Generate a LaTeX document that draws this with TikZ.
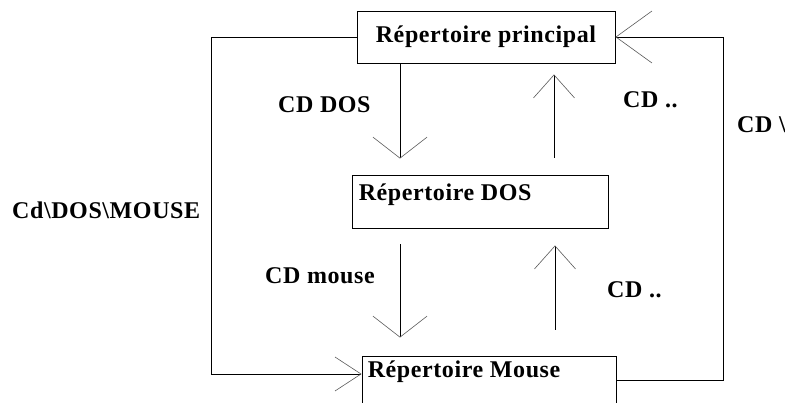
\documentclass[tikz,border=0pt]{standalone}
\usepackage{fontspec}
\setmainfont[LetterSpace=2.5]{Liberation Serif}
\usetikzlibrary{arrows.meta}

\begin{document}
\begin{tikzpicture}[
  x=1pt, y=-1pt,
  every node/.style={font=\fontsize{24}{28}\selectfont\bfseries},
  box/.style={draw, rectangle, line width=0.9pt, inner sep=0pt},
  lbl/.style={anchor=west, inner sep=0pt},
  fl/.style 2 args={line width=0.9pt,
    -{Straight Barb[length=#1pt, width=#2pt, line width=0.6pt, color=black!65]}}
]
\useasboundingbox (0,0) rectangle (785,403);
\clip (0,0) rectangle (785,403);

\node[box, minimum width=258, minimum height=52] (root)  at (486,37)    {Répertoire principal};
\node[box, minimum width=256, minimum height=53] (dos)   at (480,201.5) {};
\node[box, minimum width=254, minimum height=64] (mouse) at (489,388)   {};
\node[lbl] (dostxt)   at ([xshift=7pt,yshift=-20pt]dos.north west)   {Répertoire DOS};
\node[lbl] (mousetxt) at ([xshift=6pt,yshift=-16pt]mouse.north west) {Répertoire Mouse};

% labels
\node[lbl] (cddos)   at (278,105) {CD DOS};
\node[lbl] (cdup1)   at (623,100) {CD ..};
\node[lbl] (cdmouse) at (265,276) {CD mouse};
\node[lbl] (cdup2)   at (607,290) {CD ..};
\node[lbl] (cdroot)  at (737,125) {CD \textbackslash};
\node[lbl] (cdpath)  at (12,210)  {Cd\textbackslash DOS\textbackslash MOUSE};

% vertical arrows
\draw[fl={21}{54}, shorten >=16pt] ([xshift=-86pt]root.south) -- ([xshift=-80pt]dos.north);
\draw[fl={23}{41}, shorten <=17pt, shorten >=11pt] ([xshift=74pt]dos.north) -- ([xshift=68pt]root.south);
\draw[fl={21}{54}, shorten <=16pt, shorten >=18pt] ([xshift=-80pt]dos.south) -- ([xshift=-89pt]mouse.north);
\draw[fl={23}{41}, shorten <=26pt, shorten >=17pt] ([xshift=66pt]mouse.north) -- ([xshift=75pt]dos.south);

% outer loops
\draw[fl={26}{34}] (root.west) -| ([xshift=-150pt,yshift=14pt]mouse.west) -- ([yshift=14pt]mouse.west);
\draw[fl={36}{52}] ([yshift=8pt]mouse.east) -| ([xshift=108pt]root.east) -- (root.east);

\end{tikzpicture}
\end{document}
